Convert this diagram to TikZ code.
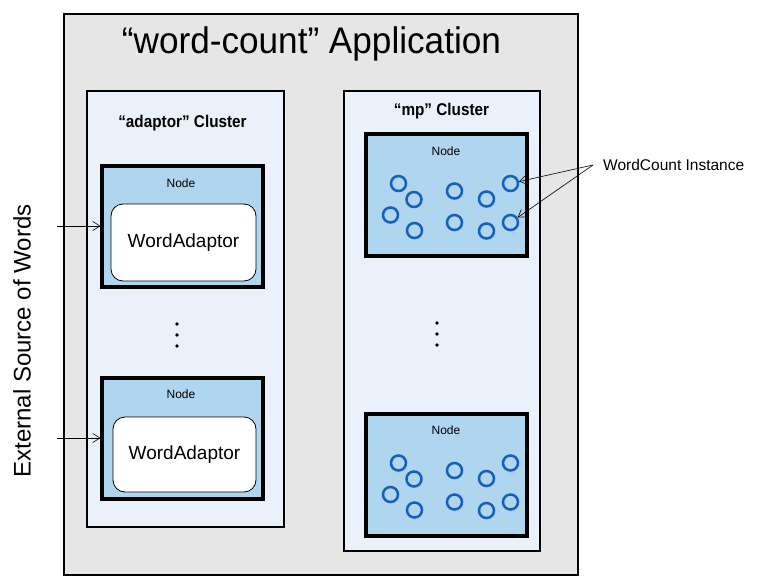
\documentclass[tikz,border=0pt]{standalone}
\usepackage{fontspec}
\setmainfont{Liberation Sans}
\usetikzlibrary{arrows.meta}
\definecolor{appgray}{HTML}{E6E6E6}
\definecolor{clusterfill}{HTML}{EAF1FA}
\definecolor{nodefill}{HTML}{B0D5EE}
\definecolor{instblue}{HTML}{1560BD}
\begin{document}
\begin{tikzpicture}[
  x=1pt, y=-1pt,
  appbox/.style={draw, line width=2.5pt, fill=appgray, inner sep=0pt},
  clusterbox/.style={draw, line width=2pt, fill=clusterfill, inner sep=0pt},
  nodebox/.style={draw, line width=3.2pt, fill=nodefill, inner sep=0pt,
                  minimum width=161pt, minimum height=121pt},
  adaptorbox/.style={draw, line width=0.8pt, fill=white, rounded corners=12pt,
                     font=\fontsize{19}{21}\selectfont},
  inst/.style={circle, draw=instblue, line width=2.5pt, minimum size=15pt, inner sep=0pt},
  apptitle/.style={font=\fontsize{37}{40}\selectfont, anchor=base},
  clustertitle/.style={font=\fontsize{17}{19}\selectfont\bfseries, anchor=base},
  nodetitle/.style={font=\fontsize{12}{13}\selectfont},
  note/.style={font=\fontsize{15.5}{17}\selectfont, inner sep=0pt},
  feed/.style={-{Straight Barb[length=7pt, width=9pt]}, line width=0.6pt},
]
  \useasboundingbox (0,0) rectangle (781,588);

  % Application and clusters
  \node[appbox, minimum width=514pt, minimum height=561pt] (app) at (321,294.5) {};
  \node[apptitle] (apptxt) at (311.5,53.5) {\scalebox{0.95}[1]{“word-count” Application}};
  \node[clusterbox, minimum width=197pt, minimum height=436pt] (adcl) at (185.5,309) {};
  \node[clusterbox, minimum width=196pt, minimum height=460pt] (mpcl) at (442,321) {};
  \node[clustertitle] (adtxt) at (182.5,127.5) {\scalebox{0.9}[1]{“adaptor” Cluster}};
  \node[clustertitle] (mptxt) at (441.5,115.5) {\scalebox{0.9}[1]{“mp” Cluster}};

  % Adaptor nodes
  \node[nodebox] (nd1) at (182.5,226.5) {};
  \node[nodebox] (nd2) at (182.5,438.5) {};
  \node[nodetitle] at (181,183) {Node};
  \node[nodetitle] at (181,394) {Node};
  \node[adaptorbox, minimum width=145pt, minimum height=77pt] (wa1) at (183.5,242.5) {WordAdaptor};
  \node[adaptorbox, minimum width=143pt, minimum height=75pt] (wa2) at (184.5,454.5) {WordAdaptor};

  % mp nodes
  \node[nodebox, minimum height=122pt] (nd3) at (446.5,195) {};
  \node[nodebox, minimum height=122pt] (nd4) at (446.5,475) {};
  \node[nodetitle] at (446,151) {Node};
  \node[nodetitle] at (446,430) {Node};
  \foreach \k/\dy in {a/0, b/279.5}
    \foreach \i/\px/\py in {1/398.5/183.5, 2/414/199.5, 3/390.5/215, 4/414.5/230.5,
                            5/454.5/191, 6/454.5/222.5, 7/486.5/199, 8/486.5/231,
                            9/510.5/183.5, 10/510.5/222.5}
      \node[inst] (c\k\i) at (\px,\py+\dy) {};

  % Continuation dots
  \foreach \dy in {324,335,346} {
    \fill (177,\dy) circle (1.9pt);
    \fill (437,\dy-1) circle (1.9pt);
  }

  % Instance note
  \node[note, anchor=west] (wcnote) at (603,165) {WordCount Instance};
  \coordinate (fork) at (593,165);
  \draw[feed] (fork) -- (ca9);
  \draw[feed] (fork) -- (ca10);

  % External input
  \node[font=\fontsize{24}{26}\selectfont, rotate=90] (ext) at (22,341) {External Source of Words};
  \coordinate (src1) at (57,226);
  \coordinate (src2) at (57,438);
  \draw[feed] (src1) -- (src1 -| nd1.west);
  \draw[feed] (src2) -- (src2 -| nd2.west);
\end{tikzpicture}
\end{document}
